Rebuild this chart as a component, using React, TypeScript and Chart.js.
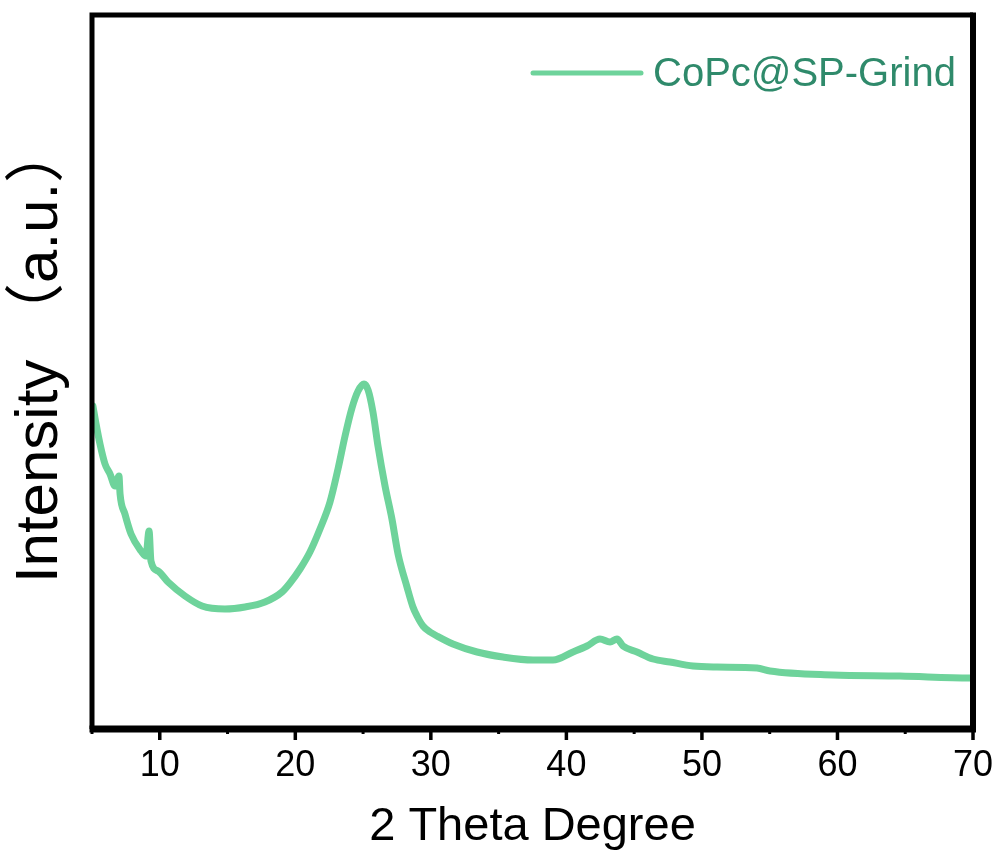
import React, { useEffect, useRef } from "react";
import { Chart, registerables } from "chart.js";

Chart.register(...registerables);

const seriesLabel = "CoPc@SP-Grind";
const xTitle = "2 Theta Degree";
const yTitle = "Intensity （a.u.）";

const twoTheta = [
  5.07, 5.3, 5.59, 5.96, 6.33, 6.7, 6.99, 7.07, 7.43, 7.88, 8.62, 8.98, 9.21, 9.35, 9.87,
  10.61, 11.86, 13.12, 14.81, 16.29, 17.76, 19.02, 19.61, 20.35, 21.08, 21.82, 22.56,
  23.15, 23.67, 24.18, 24.63, 25.07, 25.37, 25.73, 26.1, 26.62, 27.13, 27.58, 28.24,
  28.68, 28.98, 29.42, 29.94, 30.45, 31.63, 33.41, 35.32, 37.54, 39.01, 40.49, 41.52,
  42.48, 43.22, 43.73, 44.18, 45.21, 46.39, 47.64, 49.34, 51.11, 54.06, 55.02, 59.67,
  64.61, 69.78, 70,
];

const intensity = [
  3230, 3050, 2850, 2650, 2550, 2430, 2530, 2350, 2150, 1950, 1780, 1730, 1980, 1680, 1580,
  1470, 1330, 1230, 1200, 1220, 1270, 1370, 1460, 1600, 1770, 2000, 2270,
  2600, 2930, 3210, 3380, 3450, 3390, 3170, 2830, 2430, 2100, 1750, 1420,
  1220, 1130, 1030, 970, 930, 850, 770, 720, 690, 690, 770, 830,
  900, 870, 900, 830, 770, 700, 670, 630, 620, 610, 580, 540,
  530, 510, 510,
];

const xTicks = [5, 10, 15, 20, 25, 30, 35, 40, 45, 50, 55, 60, 65, 70];

const lineColor = "rgb(110, 211, 155)";
const legendTextColor = "#2f8a6b";
const fontFamily = "'Liberation Sans', Arial, 'Noto Sans CJK SC', sans-serif";

const framePlugin = {
  id: "framePlugin",
  afterDraw(chart: any) {
    const { ctx, chartArea } = chart;
    const xs = chart.scales.x;
    const { left, right, top, bottom } = chartArea;
    ctx.save();
    ctx.strokeStyle = "#000";
    ctx.lineCap = "butt";
    ctx.lineWidth = 5;
    ctx.beginPath();
    ctx.moveTo(left, bottom);
    ctx.lineTo(left, top);
    ctx.lineTo(right, top);
    ctx.stroke();
    ctx.lineWidth = 6;
    ctx.beginPath();
    ctx.moveTo(right, top - 2.5);
    ctx.lineTo(right, bottom);
    ctx.stroke();
    ctx.lineWidth = 7;
    ctx.beginPath();
    ctx.moveTo(left - 2.5, bottom);
    ctx.lineTo(right + 3, bottom);
    ctx.stroke();
    xTicks.forEach((v) => {
      const px = xs.getPixelForValue(v);
      const major = v % 10 === 0;
      ctx.lineWidth = major ? 3.5 : 3;
      ctx.beginPath();
      ctx.moveTo(px, bottom);
      ctx.lineTo(px, bottom + (major ? 11 : 5));
      ctx.stroke();
    });
    // y-axis title
    ctx.save();
    ctx.translate(40, (top + bottom) / 2 - 19);
    ctx.rotate(-Math.PI / 2);
    ctx.fillStyle = "#000";
    ctx.font = `60px ${fontFamily}`;
    ctx.textAlign = "center";
    ctx.textBaseline = "middle";
    ctx.fillText(yTitle, 0, 0);
    ctx.restore();
    // legend
    const ds = chart.data.datasets[0];
    ctx.strokeStyle = ds.borderColor;
    ctx.lineWidth = 5;
    ctx.lineCap = "round";
    ctx.beginPath();
    ctx.moveTo(533, 73);
    ctx.lineTo(641, 73);
    ctx.stroke();
    ctx.fillStyle = legendTextColor;
    ctx.font = `40px ${fontFamily}`;
    ctx.textBaseline = "middle";
    ctx.textAlign = "left";
    ctx.fillText(ds.label, 653, 75);
    ctx.restore();
  },
};

export default function App() {
  const canvasRef = useRef<HTMLCanvasElement | null>(null);

  useEffect(() => {
    if (!canvasRef.current) return;
    const data = twoTheta.map((x, i) => ({ x, y: intensity[i] }));
    const chart = new Chart(canvasRef.current, {
      type: "line",
      data: {
        datasets: [
          {
            label: seriesLabel,
            data,
            borderColor: lineColor,
            borderWidth: 7,
            pointRadius: 0,
            cubicInterpolationMode: "monotone",
            fill: false,
            borderJoinStyle: "round",
            borderCapStyle: "round",
          },
        ],
      },
      options: {
        responsive: false,
        animation: false,
        layout: { padding: { top: 15, right: 27, left: 0, bottom: 0 } },
        plugins: {
          legend: { display: false },
          tooltip: { enabled: false },
        },
        scales: {
          x: {
            type: "linear",
            min: 5,
            max: 70,
            grid: { display: false, drawTicks: false },
            border: { display: false },
            afterBuildTicks: (scale: any) => {
              scale.ticks = xTicks.map((v) => ({ value: v }));
            },
            afterFit: (scale: any) => {
              scale.height = 126;
              scale.paddingLeft = 0;
              scale.paddingRight = 0;
            },
            ticks: {
              autoSkip: false,
              maxRotation: 0,
              padding: 15,
              color: "#000",
              font: { family: fontFamily, size: 36 },
              callback: (v: any) => (Number(v) % 10 === 0 ? String(v) : ""),
            },
            title: {
              display: true,
              text: xTitle,
              color: "#000",
              font: { family: fontFamily, size: 47 },
              padding: { top: 0, bottom: 0 },
            },
          },
          y: {
            type: "linear",
            min: 0,
            max: 7140,
            grid: { display: false, drawTicks: false },
            border: { display: false },
            ticks: { display: false },
            afterFit: (scale: any) => {
              scale.width = 92;
              scale.paddingTop = 0;
              scale.paddingBottom = 0;
            },
            title: { display: false, text: yTitle },
          },
        },
      },
      plugins: [framePlugin],
    });
    return () => chart.destroy();
  }, []);

  return (
    <div style={{ position: "absolute", left: 0, top: 0, width: 1000, height: 855, background: "#fff" }}>
      <canvas ref={canvasRef} width={1000} height={855} style={{ display: "block", width: 1000, height: 855 }} />
    </div>
  );
}
